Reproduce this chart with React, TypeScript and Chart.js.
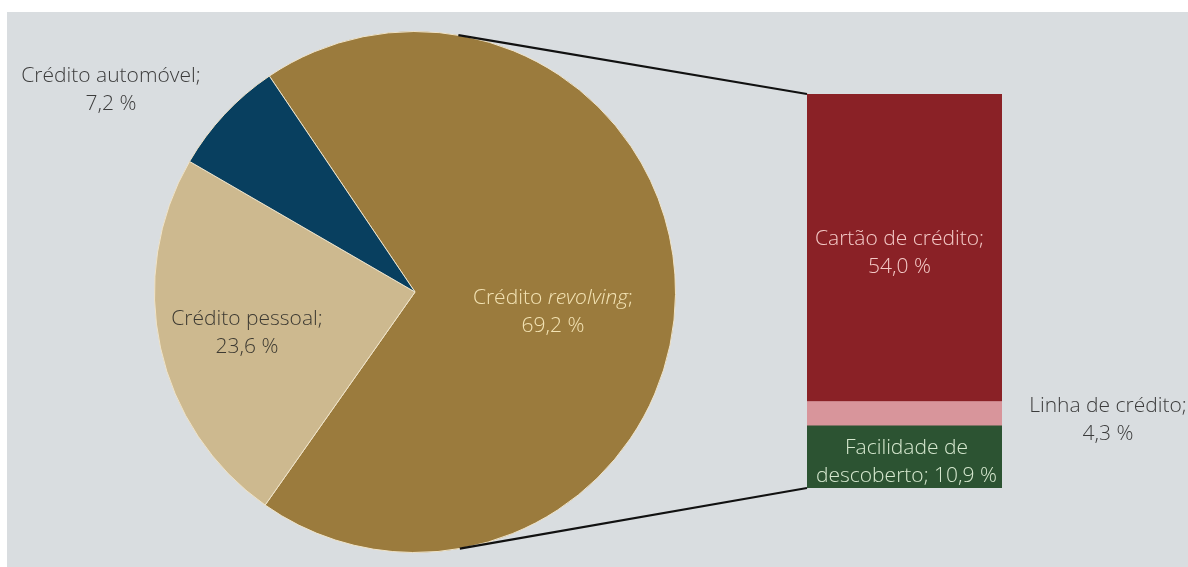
import React, { useEffect, useRef } from "react";
import { Chart, registerables } from "chart.js";

Chart.register(...registerables);

// ---- data ----
const pieCategories = ["Crédito revolving", "Crédito pessoal", "Crédito automóvel"];
const pieValues = [69.2, 23.6, 7.2];
const pieValueLabels = ["69,2 %", "23,6 %", "7,2 %"];

const barCategories = ["Facilidade de descoberto", "Linha de crédito", "Cartão de crédito"];
const barValues = [10.9, 4.3, 54.0];
const barValueLabels = ["10,9 %", "4,3 %", "54,0 %"];

// ---- styles / layout ----
const W = 1188;
const H = 567;
const BG = "#d9dde0";
const pieColors = ["#9b7b3d", "#cdb98f", "#083f5f"];
const barColors = ["#2c5332", "#d8959b", "#8a2126"];
const FONT_FAMILY = '"Open Sans", "Noto Sans", sans-serif';
const FONT_SIZE = 21;
const LINE_H = 28;

type Seg = { text: string; italic?: boolean };

function drawLabel(
  ctx: CanvasRenderingContext2D,
  lines: Seg[][],
  cx: number,
  baseline: number,
  color: string
) {
  ctx.save();
  ctx.fillStyle = color;
  ctx.textBaseline = "alphabetic";
  ctx.textAlign = "left";
  lines.forEach((segs, i) => {
    let total = 0;
    const widths = segs.map((s) => {
      ctx.font = `${s.italic ? "italic " : ""}300 ${FONT_SIZE}px ${FONT_FAMILY}`;
      const w = ctx.measureText(s.text).width;
      total += w;
      return w;
    });
    let x = cx - total / 2;
    segs.forEach((s, j) => {
      ctx.font = `${s.italic ? "italic " : ""}300 ${FONT_SIZE}px ${FONT_FAMILY}`;
      ctx.fillText(s.text, x, baseline + i * LINE_H);
      x += widths[j];
    });
  });
  ctx.restore();
}

export default function App() {
  const pieRef = useRef<HTMLCanvasElement>(null);
  const barRef = useRef<HTMLCanvasElement>(null);

  useEffect(() => {
    if (!pieRef.current || !barRef.current) return;

    const pieLabelPlugin = {
      id: "pieLabels",
      afterDatasetsDraw(chart: any) {
        const ctx = chart.ctx;
        const arc = chart.getDatasetMeta(0).data[0];
        const cx = arc.x;
        const cy = arc.y;
        // revolving (inside)
        drawLabel(
          ctx,
          [
            [{ text: "Crédito " }, { text: "revolving", italic: true }, { text: ";" }],
            [{ text: pieValueLabels[0] }],
          ],
          cx + 138,
          cy + 12,
          "#f3e3b4"
        );
        // pessoal (inside)
        drawLabel(
          ctx,
          [[{ text: pieCategories[1] + ";" }], [{ text: pieValueLabels[1] }]],
          cx - 168,
          cy + 33,
          "#3d3a32"
        );
        // automóvel (outside)
        drawLabel(
          ctx,
          [[{ text: pieCategories[2] + ";" }], [{ text: pieValueLabels[2] }]],
          cx - 304,
          cy - 210,
          "#3c3c3c"
        );
      },
    };

    const pie = new Chart(pieRef.current, {
      type: "pie",
      data: {
        labels: pieCategories,
        datasets: [
          {
            data: pieValues,
            backgroundColor: pieColors,
            borderColor: "#efe3c8",
            borderWidth: 1,
          },
        ],
      },
      options: {
        animation: false,
        responsive: true,
        maintainAspectRatio: false,
        rotation: -34,
        layout: { padding: { left: 154, top: 31, right: 512, bottom: 14 } },
        plugins: { legend: { display: false }, tooltip: { enabled: false } },
      },
      plugins: [pieLabelPlugin],
    });

    const barOverlayPlugin = {
      id: "barOverlay",
      afterDatasetsDraw(chart: any) {
        const ctx = chart.ctx;
        const bottomBar = chart.getDatasetMeta(0).data[0];
        const pinkBar = chart.getDatasetMeta(1).data[0];
        const topBar = chart.getDatasetMeta(2).data[0];
        const left = topBar.x - topBar.width / 2;
        const right = topBar.x + topBar.width / 2;
        const top = topBar.y;
        const bottom = bottomBar.base;

        // connector lines tangent to the pie
        const arc = pie.getDatasetMeta(0).data[0] as any;
        const pcx = arc.x;
        const pcy = arc.y;
        const r = arc.outerRadius;
        const tangent = (px: number, py: number, sign: number) => {
          const dx = px - pcx;
          const dy = py - pcy;
          const d = Math.hypot(dx, dy);
          const base = Math.atan2(dy, dx);
          const a = base + sign * Math.acos(r / d);
          return [pcx + r * Math.cos(a), pcy + r * Math.sin(a)];
        };
        ctx.save();
        ctx.strokeStyle = "#111111";
        ctx.lineWidth = 2.2;
        const t1 = tangent(left, top, -1);
        ctx.beginPath();
        ctx.moveTo(t1[0], t1[1]);
        ctx.lineTo(left, top);
        ctx.stroke();
        const t2 = tangent(left, bottom, 1);
        ctx.beginPath();
        ctx.moveTo(t2[0], t2[1]);
        ctx.lineTo(left, bottom);
        ctx.stroke();
        ctx.restore();

        const cx = topBar.x;
        // Cartão de crédito
        const redMid = (topBar.y + topBar.base) / 2;
        drawLabel(
          ctx,
          [[{ text: barCategories[2] + ";" }], [{ text: barValueLabels[2] }]],
          cx - 5,
          redMid - 3,
          "#f3c9c6"
        );
        // Facilidade de descoberto
        const greenMid = (bottomBar.y + bottomBar.base) / 2;
        drawLabel(
          ctx,
          [[{ text: "Facilidade de" }], [{ text: "descoberto; " + barValueLabels[0] }]],
          cx + 2,
          greenMid - 3,
          "#d6e8cf"
        );
        // Linha de crédito (outside)
        const pinkMid = (pinkBar.y + pinkBar.base) / 2;
        drawLabel(
          ctx,
          [[{ text: barCategories[1] + ";" }], [{ text: barValueLabels[1] }]],
          right + 106,
          pinkMid - 2,
          "#3c3c3c"
        );
      },
    };

    const total = barValues.reduce((a, b) => a + b, 0);
    const bar = new Chart(barRef.current, {
      type: "bar",
      data: {
        labels: [""],
        datasets: barValues.map((v, i) => ({
          label: barCategories[i],
          data: [v],
          backgroundColor: barColors[i],
          borderWidth: 0,
          barPercentage: 1,
          categoryPercentage: 1,
        })),
      },
      options: {
        animation: false,
        responsive: true,
        maintainAspectRatio: false,
        layout: { padding: { left: 807, right: 186, top: 94, bottom: 79 } },
        scales: {
          x: { stacked: true, display: false },
          y: { stacked: true, display: false, min: 0, max: total },
        },
        plugins: { legend: { display: false }, tooltip: { enabled: false } },
      },
      plugins: [barOverlayPlugin],
    });

    return () => {
      bar.destroy();
      pie.destroy();
    };
  }, []);

  const layer: React.CSSProperties = {
    position: "absolute",
    left: 0,
    top: 0,
    width: W,
    height: H,
  };

  return (
    <div style={{ ...layer, background: "#ffffff", overflow: "hidden" }}>
      <div
        style={{ position: "absolute", left: 7, top: 12, right: 0, bottom: 0, background: BG }}
      />
      <div style={layer}>
        <canvas ref={pieRef} />
      </div>
      <div style={layer}>
        <canvas ref={barRef} />
      </div>
    </div>
  );
}
